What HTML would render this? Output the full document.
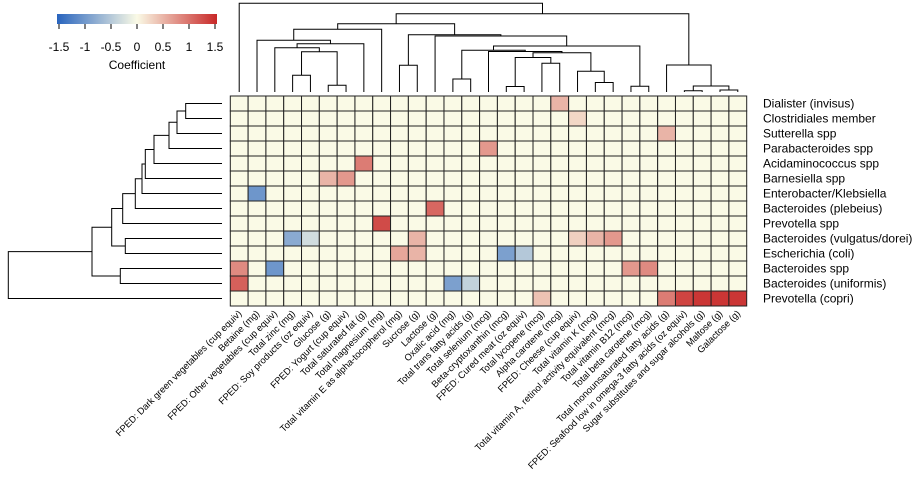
<!DOCTYPE html>
<html><head><meta charset="utf-8"><style>
html,body{margin:0;padding:0;background:#fff;}
svg{display:block;font-family:"Liberation Sans",Arial,sans-serif;}
</style></head><body>
<svg id="chart" width="922" height="481" viewBox="0 0 922 481">
<defs><linearGradient id="lg" x1="0" x2="1" y1="0" y2="0">
<stop offset="0" stop-color="rgb(40,100,190)"/><stop offset="0.5" stop-color="rgb(250,250,230)"/><stop offset="1" stop-color="rgb(200,40,40)"/></linearGradient></defs>
<g id="legend">
<rect x="57" y="14" width="160" height="10" fill="url(#lg)"/>
<g id="legticks"></g>
<text x="137" y="69" font-size="12" text-anchor="middle" fill="#000">Coefficient</text>
</g>
<g id="coldend"></g>
<g id="rowdend"></g>
<g id="cells"></g>
<g id="rowlabels"></g>
<g id="collabels"></g>
</svg>
<script>
const rowNames=["Dialister (invisus)","Clostridiales member","Sutterella spp","Parabacteroides spp","Acidaminococcus spp","Barnesiella spp","Enterobacter/Klebsiella","Bacteroides (plebeius)","Prevotella spp","Bacteroides (vulgatus/dorei)","Escherichia (coli)","Bacteroides spp","Bacteroides (uniformis)","Prevotella (copri)"];
const colNames=["FPED: Dark green vegetables (cup equiv)","Betaine (mg)","FPED: Other vegetables (cup equiv)","Total zinc (mg)","FPED: Soy products (oz equiv)","Glucose (g)","FPED: Yogurt (cup equiv)","Total saturated fat (g)","Total magnesium (mg)","Total vitamin E as alpha-tocopherol (mg)","Sucrose (g)","Lactose (g)","Oxalic acid (mg)","Total trans fatty acids (g)","Total selenium (mcg)","Beta-cryptoxanthin (mcg)","FPED: Cured meat (oz equiv)","Total lycopene (mcg)","Alpha carotene (mcg)","FPED: Cheese (cup equiv)","Total vitamin K (mcg)","Total vitamin A, retinol activity equivalent (mcg)","Total vitamin B12 (mcg)","Total beta carotene (mcg)","Total monounsaturated fatty acids (g)","FPED: Seafood low in omega-3 fatty acids (oz equiv)","Sugar substitutes and sugar alcohols (g)","Maltose (g)","Galactose (g)"];
const legendTicks=[-1.5,-1,-0.5,0,0.5,1,1.5];
const row0 =[0,0,0,0,0,0,0,0,0,0,0,0,0,0,0,0,0,0,0.5,0,0,0,0,0,0,0,0,0,0];
const row1 =[0,0,0,0,0,0,0,0,0,0,0,0,0,0,0,0,0,0,0,0.25,0,0,0,0,0,0,0,0,0];
const row2 =[0,0,0,0,0,0,0,0,0,0,0,0,0,0,0,0,0,0,0,0,0,0,0,0,0.5,0,0,0,0];
const row3 =[0,0,0,0,0,0,0,0,0,0,0,0,0,0,0.7,0,0,0,0,0,0,0,0,0,0,0,0,0,0];
const row4 =[0,0,0,0,0,0,0,0.9,0,0,0,0,0,0,0,0,0,0,0,0,0,0,0,0,0,0,0,0,0];
const row5 =[0,0,0,0,0,0.5,0.7,0,0,0,0,0,0,0,0,0,0,0,0,0,0,0,0,0,0,0,0,0,0];
const row6 =[0,-1.0,0,0,0,0,0,0,0,0,0,0,0,0,0,0,0,0,0,0,0,0,0,0,0,0,0,0,0];
const row7 =[0,0,0,0,0,0,0,0,0,0,0,1.05,0,0,0,0,0,0,0,0,0,0,0,0,0,0,0,0,0];
const row8 =[0,0,0,0,0,0,0,0,1.25,0,0,0,0,0,0,0,0,0,0,0,0,0,0,0,0,0,0,0,0];
const row9 =[0,0,0,-0.8,-0.3,0,0,0,0,0,0.5,0,0,0,0,0,0,0,0,0.3,0.5,0.7,0,0,0,0,0,0,0];
const row10=[0,0,0,0,0,0,0,0,0,0.6,0.5,0,0,0,0,-0.9,-0.5,0,0,0,0,0,0,0,0,0,0,0,0];
const row11=[0.8,0,-1.0,0,0,0,0,0,0,0,0,0,0,0,0,0,0,0,0,0,0,0,0.7,0.8,0,0,0,0,0];
const row12=[1.1,0,0,0,0,0,0,0,0,0,0,0,-0.9,-0.4,0,0,0,0,0,0,0,0,0,0,0,0,0,0,0];
const row13=[0,0,0,0,0,0,0,0,0,0,0,0,0,0,0,0,0,0.4,0,0,0,0,0,0,0.9,1.3,1.4,1.4,1.4];
const values=[row0,row1,row2,row3,row4,row5,row6,row7,row8,row9,row10,row11,row12,row13];
const colMerges=[[3,4,75.3],[5,6,85.3],[-1,-2,51.7],[2,-3,47.7],[-4,7,43.7],[1,-5,40.3],[-6,8,29.3],[9,10,65.3],[12,13,79],[15,16,86.5],[17,18,63.3],[-10,-11,57.5],[20,21,82.5],[19,-13,71.3],[-12,-14,52.7],[14,-15,51.5],[-9,-16,50.3],[22,23,86.3],[-17,-18,46],[11,-19,36],[-8,-20,34.7],[-7,-21,23.7],[25,26,90.7],[27,28,90],[-23,-24,86],[24,-25,65],[-22,-26,13.7],[0,-27,3.3]];
const rowMerges=[[0,1,185.7],[-1,2,177],[-2,3,169],[-3,4,154],[-4,5,145.3],[-5,6,142],[-6,7,135.3],[-7,8,122.7],[9,10,125.3],[-8,-9,111.7],[11,12,120.3],[-10,-11,92],[-12,13,8.3]];

const NS="http://www.w3.org/2000/svg";
const gx0=230.3,gx1=746.7,gy0=96,gy1=306;
const cw=(gx1-gx0)/colNames.length, rh=(gy1-gy0)/rowNames.length;
const xCol=i=>gx0+cw*(i+0.5), yRow=i=>gy0+rh*(i+0.5);
const legX=v=>59+(v+1.5)/3*156;
function mk(tag,attrs,parent){const e=document.createElementNS(NS,tag);for(const k in attrs)e.setAttribute(k,attrs[k]);parent.appendChild(e);return e;}
function color(v){
  const a=[40,100,190],m=[250,250,230],b=[200,40,40];
  let t=Math.max(-1,Math.min(1,v/1.5));const s=t<0?a:b;t=Math.abs(t);
  return `rgb(${Math.round(m[0]+(s[0]-m[0])*t)},${Math.round(m[1]+(s[1]-m[1])*t)},${Math.round(m[2]+(s[2]-m[2])*t)})`;
}
const lt=document.getElementById('legticks');
legendTicks.forEach(v=>{
  const l=mk('line',{x1:legX(v),x2:legX(v),y1:24,y2:29,stroke:'#000','stroke-width':1},lt);
  
  
  const t=mk('text',{x:legX(v),y:51,'font-size':12,'text-anchor':'middle',fill:'#000'},lt);
  t.textContent=String(v);
  
  
});
const cg=document.getElementById('cells');
values.forEach((row,r)=>row.forEach((v,c)=>{
  const e=mk('rect',{x:gx0+cw*c,y:gy0+rh*r,width:cw,height:rh,fill:color(v),stroke:'#222','stroke-width':1},cg);
  
  
}));
const rl=document.getElementById('rowlabels');
rowNames.forEach((n,i)=>{
  const t=mk('text',{x:763,y:yRow(i)+4,'font-size':12,fill:'#000'},rl);t.textContent=n;
  
  
});
const cl=document.getElementById('collabels');
colNames.forEach((n,i)=>{
  const x=xCol(i)+3,y=314;
  const t=mk('text',{x:x,y:y,'font-size':9.4,fill:'#000','text-anchor':'end',transform:`rotate(-45 ${x} ${y})`},cl);t.textContent=n;
  
  
});
function dend(merges,leafPos,leafLevel,vertical,g){
  const pos=[];
  const get=k=>k>=0?[leafPos(k),leafLevel]:pos[-k-1];
  merges.forEach((m,i)=>{
    const a=get(m[0]),b=get(m[1]),h=m[2];
    let d;
    if(vertical){d=`M${a[0]},${a[1]}V${h}H${b[0]}V${b[1]}`;}
    else{d=`M${a[1]},${a[0]}H${h}V${b[0]}H${b[1]}`;}
    const p=mk('path',{d:d,fill:'none',stroke:'#000','stroke-width':1},g);
    
    
    pos.push([(a[0]+b[0])/2,h]);
  });
}
dend(colMerges,xCol,92,true,document.getElementById('coldend'));
dend(rowMerges,yRow,222,false,document.getElementById('rowdend'));
</script>
</body></html>
